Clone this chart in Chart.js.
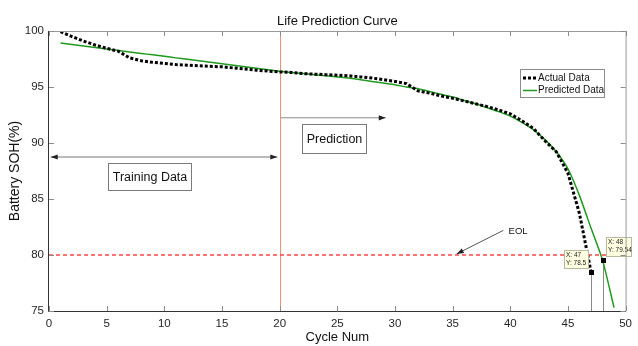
<!DOCTYPE html>
<html>
<head>
<meta charset="utf-8">
<title>Life Prediction Curve</title>
<script src="https://cdn.jsdelivr.net/npm/chart.js@4.4.1/dist/chart.umd.min.js"></script>
<style>
  html, body { margin: 0; padding: 0; background: #fff; }
  #wrap { width: 638px; height: 346px; }
</style>
</head>
<body>
<div id="wrap"><canvas id="lifeChart" width="638" height="346"></canvas></div>
<script>
// Measured capacity (SOH) per cycle
var actualCycle = [1, 2, 3, 4, 5, 6, 7, 8, 9, 10, 11, 12, 13, 14, 15, 16, 17, 18, 19, 20,
  21, 22, 23, 24, 25, 26, 27, 28, 29, 30, 31, 32, 33, 34, 35, 36, 37, 38, 39, 40,
  41, 42, 43, 44, 45, 46, 47];
var actualSoh = [99.95, 99.5, 99.1, 98.75, 98.45, 98.2, 97.6, 97.35, 97.2, 97.1, 97.0, 96.95, 96.9, 96.85, 96.8, 96.7, 96.6, 96.5, 96.42, 96.35,
  96.3, 96.2, 96.15, 96.1, 96.05, 96.0, 95.9, 95.8, 95.65, 95.5, 95.3, 94.65, 94.45, 94.2, 94.0, 93.75, 93.5, 93.25, 92.95, 92.6,
  92.0, 91.3, 90.2, 89.2, 87.3, 83.7, 78.5];

// Model prediction per cycle
var predCycle = [1, 2, 3, 4, 5, 6, 7, 8, 9, 10, 11, 12, 13, 14, 15, 16, 17, 18, 19, 20,
  21, 22, 23, 24, 25, 26, 27, 28, 29, 30, 31, 32, 33, 34, 35, 36, 37, 38, 39, 40,
  41, 42, 43, 44, 45, 46, 47, 48, 49];
var predSoh = [98.93, 98.8, 98.66, 98.53, 98.4, 98.27, 98.13, 98.0, 97.87, 97.74, 97.6, 97.47, 97.34, 97.2, 97.07, 96.94, 96.8, 96.67, 96.54, 96.4,
  96.3, 96.2, 96.1, 96.0, 95.9, 95.8, 95.65, 95.5, 95.35, 95.2, 95.0, 94.85, 94.6, 94.35, 94.1, 93.8, 93.5, 93.15, 92.8, 92.4,
  91.85, 91.2, 90.3, 89.2, 87.7, 85.3, 82.4, 79.54, 75.3];

// End-of-life threshold and the two data tips
var eolLevel = 80;
var trainEnd = 20;
var tipCycle = [47, 48];
var tipSoh = [78.5, 79.54];

var xTicks = [0, 5, 10, 15, 20, 25, 30, 35, 40, 45, 50];
var yTicks = [75, 80, 85, 90, 95, 100];

function toPoints(xs, ys) {
  var out = [];
  for (var i = 0; i < xs.length; i++) out.push({ x: xs[i], y: ys[i] });
  return out;
}

var FONT = 'Liberation Sans, Arial, Helvetica, sans-serif';
var AXIS_COLOR = '#262626';

function arrow(ctx, x1, y1, x2, y2, startHead, endHead, lineColor, headColor) {
  ctx.save();
  ctx.strokeStyle = lineColor;
  ctx.lineWidth = 1;
  ctx.beginPath();
  ctx.moveTo(x1, y1);
  ctx.lineTo(x2, y2);
  ctx.stroke();
  function head(tx, ty, fx, fy) {
    var a = Math.atan2(ty - fy, tx - fx);
    var len = 7, w = 2.6;
    ctx.fillStyle = headColor;
    ctx.beginPath();
    ctx.moveTo(tx, ty);
    ctx.lineTo(tx - len * Math.cos(a) + w * Math.sin(a), ty - len * Math.sin(a) - w * Math.cos(a));
    ctx.lineTo(tx - len * Math.cos(a) - w * Math.sin(a), ty - len * Math.sin(a) + w * Math.cos(a));
    ctx.closePath();
    ctx.fill();
  }
  if (endHead) head(x2, y2, x1, y1);
  if (startHead) head(x1, y1, x2, y2);
  ctx.restore();
}

function textBox(ctx, x, y, w, h, label) {
  ctx.save();
  ctx.fillStyle = '#fff';
  ctx.fillRect(x, y, w, h);
  ctx.strokeStyle = '#7a7a7a';
  ctx.lineWidth = 1;
  ctx.strokeRect(x + 0.5, y + 0.5, w, h);
  ctx.fillStyle = '#111';
  ctx.font = '12.5px ' + FONT;
  ctx.textAlign = 'center';
  ctx.textBaseline = 'middle';
  ctx.fillText(label, x + w / 2 + 0.5, y + h / 2 + 1);
  ctx.restore();
}

function dataTip(ctx, x, y, w, h, lines) {
  ctx.save();
  ctx.fillStyle = '#ffffe1';
  ctx.fillRect(x, y, w, h);
  ctx.strokeStyle = '#b8b8a0';
  ctx.strokeRect(x + 0.5, y + 0.5, w, h);
  ctx.fillStyle = '#222';
  ctx.font = '6.5px ' + FONT;
  ctx.textAlign = 'left';
  ctx.textBaseline = 'middle';
  ctx.fillText(lines[0], x + 2, y + 5);
  ctx.fillText(lines[1], x + 2, y + 13);
  ctx.restore();
}

// reference lines behind the curves
var guidesPlugin = {
  id: 'guides',
  beforeDatasetsDraw: function (chart) {
    var ctx = chart.ctx, xs = chart.scales.x, ys = chart.scales.y, a = chart.chartArea;
    ctx.save();
    // training / prediction split
    var xv = Math.round(xs.getPixelForValue(trainEnd)) + 0.5;
    ctx.strokeStyle = '#f0916e';
    ctx.lineWidth = 1;
    ctx.beginPath();
    ctx.moveTo(xv, a.top);
    ctx.lineTo(xv, a.bottom);
    ctx.stroke();
    // EOL threshold
    var ye = Math.round(ys.getPixelForValue(eolLevel));
    ctx.strokeStyle = 'rgb(255, 70, 70)';
    ctx.lineWidth = 1.4;
    ctx.setLineDash([4, 3]);
    ctx.beginPath();
    ctx.moveTo(a.left, ye);
    ctx.lineTo(a.right, ye);
    ctx.stroke();
    ctx.setLineDash([]);
    // drop lines under the data tips
    ctx.strokeStyle = '#8a8a8a';
    ctx.lineWidth = 1;
    for (var i = 0; i < tipCycle.length; i++) {
      var px = Math.round(xs.getPixelForValue(tipCycle[i])) + 0.5;
      ctx.beginPath();
      ctx.moveTo(px, ys.getPixelForValue(tipSoh[i]));
      ctx.lineTo(px, a.bottom);
      ctx.stroke();
    }
    ctx.restore();
  },
  afterDatasetsDraw: function (chart) {
    var ctx = chart.ctx, xs = chart.scales.x, ys = chart.scales.y;
    var X = function (v) { return xs.getPixelForValue(v); };
    var Y = function (v) { return ys.getPixelForValue(v); };

    // training span arrow and label
    arrow(ctx, X(0.15), Y(88.75), X(19.8), Y(88.75), true, true, '#777', '#222');
    textBox(ctx, Math.round(X(5.1)), Math.round(Y(88.2)), 83, 27, 'Training Data');

    // prediction arrow and label
    arrow(ctx, X(20.1), Y(92.25), X(29.2), Y(92.25), false, true, '#888', '#222');
    textBox(ctx, Math.round(X(21.9)), Math.round(Y(91.7)), 64, 29, 'Prediction');

    // EOL callout
    arrow(ctx, X(39.4), Y(82.2), X(35.35), Y(80.1), false, true, '#555', '#222');
    ctx.save();
    ctx.fillStyle = '#111';
    ctx.font = '9.5px ' + FONT;
    ctx.textBaseline = 'middle';
    ctx.fillText('EOL', X(39.85), Y(82.1));
    ctx.restore();

    // data tips
    for (var i = 0; i < tipCycle.length; i++) {
      var px = X(tipCycle[i]), py = Y(tipSoh[i]);
      ctx.fillStyle = '#000';
      ctx.fillRect(Math.round(px) - 2, Math.round(py) - 2, 5, 5);
      var lines = ['X: ' + tipCycle[i], 'Y: ' + tipSoh[i]];
      if (i === 0) dataTip(ctx, Math.round(px) - 27, Math.round(py) - 22, 24, 18, lines);
      else dataTip(ctx, Math.round(px) + 3, Math.round(py) - 23, 25, 19, lines);
    }
  },
  afterDraw: function (chart) {
    var ctx = chart.ctx, xs = chart.scales.x, ys = chart.scales.y, a = chart.chartArea;
    ctx.save();
    // box: light top/right, dark left/bottom
    ctx.lineWidth = 1;
    ctx.strokeStyle = '#9a9a9a';
    ctx.beginPath();
    ctx.moveTo(a.left, a.top + 0.5);
    ctx.lineTo(a.right + 0.5, a.top + 0.5);
    ctx.lineTo(a.right + 0.5, a.bottom);
    ctx.stroke();
    ctx.strokeStyle = '#333';
    ctx.beginPath();
    ctx.moveTo(a.left - 0.5, a.top);
    ctx.lineTo(a.left - 0.5, a.bottom + 0.5);
    ctx.lineTo(a.right + 0.5, a.bottom + 0.5);
    ctx.stroke();
    // inward ticks
    ctx.strokeStyle = '#8c8c8c';
    var tl = 5;
    xTicks.forEach(function (v) {
      var px = Math.round(xs.getPixelForValue(v)) + 0.5;
      ctx.beginPath();
      ctx.moveTo(px, a.bottom); ctx.lineTo(px, a.bottom - tl);
      ctx.moveTo(px, a.top); ctx.lineTo(px, a.top + tl);
      ctx.stroke();
    });
    yTicks.forEach(function (v) {
      var py = Math.round(ys.getPixelForValue(v)) + 0.5;
      ctx.beginPath();
      ctx.moveTo(a.left, py); ctx.lineTo(a.left + tl, py);
      ctx.moveTo(a.right, py); ctx.lineTo(a.right - tl, py);
      ctx.stroke();
    });

    // title
    ctx.fillStyle = '#111';
    ctx.font = '13px ' + FONT;
    ctx.textAlign = 'center';
    ctx.textBaseline = 'middle';
    ctx.fillText('Life Prediction Curve', (a.left + a.right) / 2, 21);

    // legend
    var lx = 520, ly = 69, lw = 84, lh = 28;
    ctx.fillStyle = '#fff';
    ctx.fillRect(lx, ly, lw, lh);
    ctx.strokeStyle = '#8c8c8c';
    ctx.strokeRect(lx + 0.5, ly + 0.5, lw, lh);
    ctx.strokeStyle = '#000';
    ctx.lineWidth = 3;
    ctx.setLineDash([3, 2]);
    ctx.beginPath(); ctx.moveTo(523, ly + 9); ctx.lineTo(536, ly + 9); ctx.stroke();
    ctx.setLineDash([]);
    ctx.strokeStyle = '#1f9a1f';
    ctx.lineWidth = 1.5;
    ctx.beginPath(); ctx.moveTo(523, ly + 21.5); ctx.lineTo(537, ly + 21.5); ctx.stroke();
    ctx.fillStyle = '#111';
    ctx.font = '10px ' + FONT;
    ctx.textAlign = 'left';
    ctx.fillText('Actual Data', 538, ly + 9);
    ctx.fillText('Predicted Data', 538, ly + 21.5);
    ctx.restore();
  }
};

var ctx = document.getElementById('lifeChart');
var lifeChart = new Chart(ctx, {
  type: 'line',
  data: {
    datasets: [
      {
        label: 'Actual Data',
        data: toPoints(actualCycle, actualSoh),
        borderColor: '#000',
        borderWidth: 3,
        borderDash: [3, 2],
        borderCapStyle: 'butt',
        pointRadius: 0,
        tension: 0,
        fill: false
      },
      {
        label: 'Predicted Data',
        data: toPoints(predCycle, predSoh),
        borderColor: '#1f9a1f',
        borderWidth: 1.5,
        pointRadius: 0,
        tension: 0.2,
        fill: false
      }
    ]
  },
  options: {
    responsive: false,
    animation: false,
    devicePixelRatio: 1,
    layout: { padding: { top: 31, right: 12, left: 0, bottom: 0 } },
    plugins: {
      legend: { display: false },
      title: { display: false },
      tooltip: { enabled: false }
    },
    scales: {
      x: {
        type: 'linear',
        min: 0,
        max: 50,
        afterFit: function (s) { s.height = 35; },
        afterBuildTicks: function (s) { s.ticks = xTicks.map(function (v) { return { value: v }; }); },
        grid: { display: false, drawTicks: false },
        border: { display: false },
        ticks: { color: AXIS_COLOR, padding: 6, maxRotation: 0, font: { family: FONT, size: 11.5 } },
        title: { display: true, text: 'Cycle Num', color: '#111', padding: { top: 0, bottom: 1 }, font: { family: FONT, size: 13 } }
      },
      y: {
        min: 75,
        max: 100,
        afterFit: function (s) { s.width = 49; },
        afterBuildTicks: function (s) { s.ticks = yTicks.map(function (v) { return { value: v }; }); },
        grid: { display: false, drawTicks: false },
        border: { display: false },
        ticks: { color: AXIS_COLOR, padding: 5, font: { family: FONT, size: 11.5 } },
        title: { display: true, text: 'Battery SOH(%)', color: '#111', padding: { top: 7 }, font: { family: FONT, size: 14 } }
      }
    }
  },
  plugins: [guidesPlugin]
});
</script>
</body>
</html>
